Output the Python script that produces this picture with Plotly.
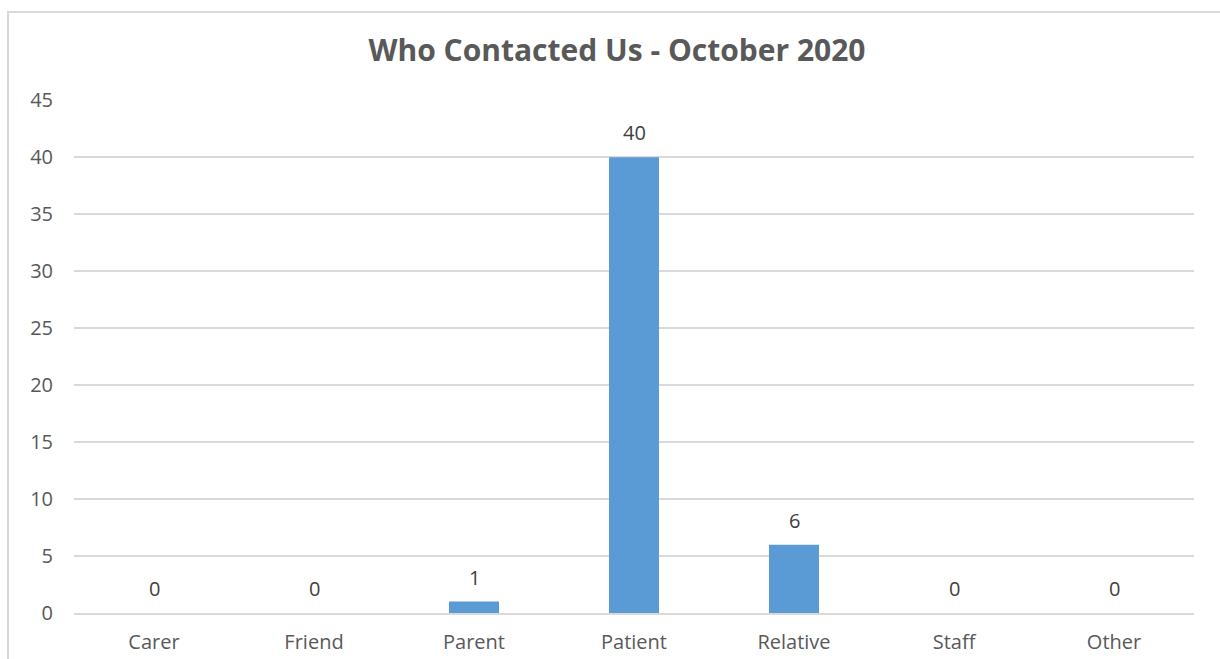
import plotly.graph_objects as go

categories = ["Carer", "Friend", "Parent", "Patient", "Relative", "Staff", "Other"]
values = [0, 0, 1, 40, 6, 0, 0]
y_ticks = [0, 5, 10, 15, 20, 25, 30, 35, 40, 45]
title_text = "Who Contacted Us - October 2020"

W, H = 1220, 659
ml, mr, mt, mb = 74, 26, 100, 46
pw = W - ml - mr
ph = H - mt - mb

font_family = "Open Sans, Liberation Sans, sans-serif"

fig = go.Figure()
fig.add_trace(go.Bar(
    x=categories, y=values,
    marker=dict(color="#5B9BD5", line=dict(width=0)),
    hoverinfo="x+y",
))

for c, v in zip(categories, values):
    fig.add_annotation(
        x=c, y=v, text=str(v), showarrow=False,
        yanchor="bottom", yshift=9,
        font=dict(family=font_family, size=20, color="#404040"),
    )

# outer chart border
fig.add_shape(
    type="rect", xref="paper", yref="paper",
    x0=(8 - ml) / pw, x1=(W + 20 - ml) / pw,
    y0=-(mb + 20) / ph, y1=(H - 12 - mb) / ph,
    line=dict(color="#d9d9d9", width=2), fillcolor="rgba(0,0,0,0)", layer="below",
)

fig.update_layout(
    width=W, height=H,
    margin=dict(l=ml, r=mr, t=mt, b=mb, pad=0, autoexpand=False),
    paper_bgcolor="white", plot_bgcolor="white",
    bargap=0.6875,
    showlegend=False,
    title=dict(
        text="<b>" + title_text + "</b>",
        x=617 / W, xanchor="center",
        y=1 - 50 / H, yanchor="middle",
        font=dict(family=font_family, size=30, color="#595959"),
    ),
    xaxis=dict(
        showgrid=False, showline=True, linecolor="#d9d9d9", linewidth=2,
        ticks="", ticklabelstandoff=10, automargin=False,
        tickfont=dict(family=font_family, size=20, color="#595959"),
    ),
    yaxis=dict(
        range=[0, 45.02], tickvals=y_ticks, showgrid=True, gridcolor="#d9d9d9", gridwidth=2,
        zeroline=False, showline=False, ticks="", ticklabelstandoff=20, automargin=False,
        tickfont=dict(family=font_family, size=20, color="#595959"),
    ),
)

fig.write_html(
    "out.html",
    config={"displayModeBar": False},
    post_script="document.body.style.margin='0';document.body.style.overflow='hidden';",
)
